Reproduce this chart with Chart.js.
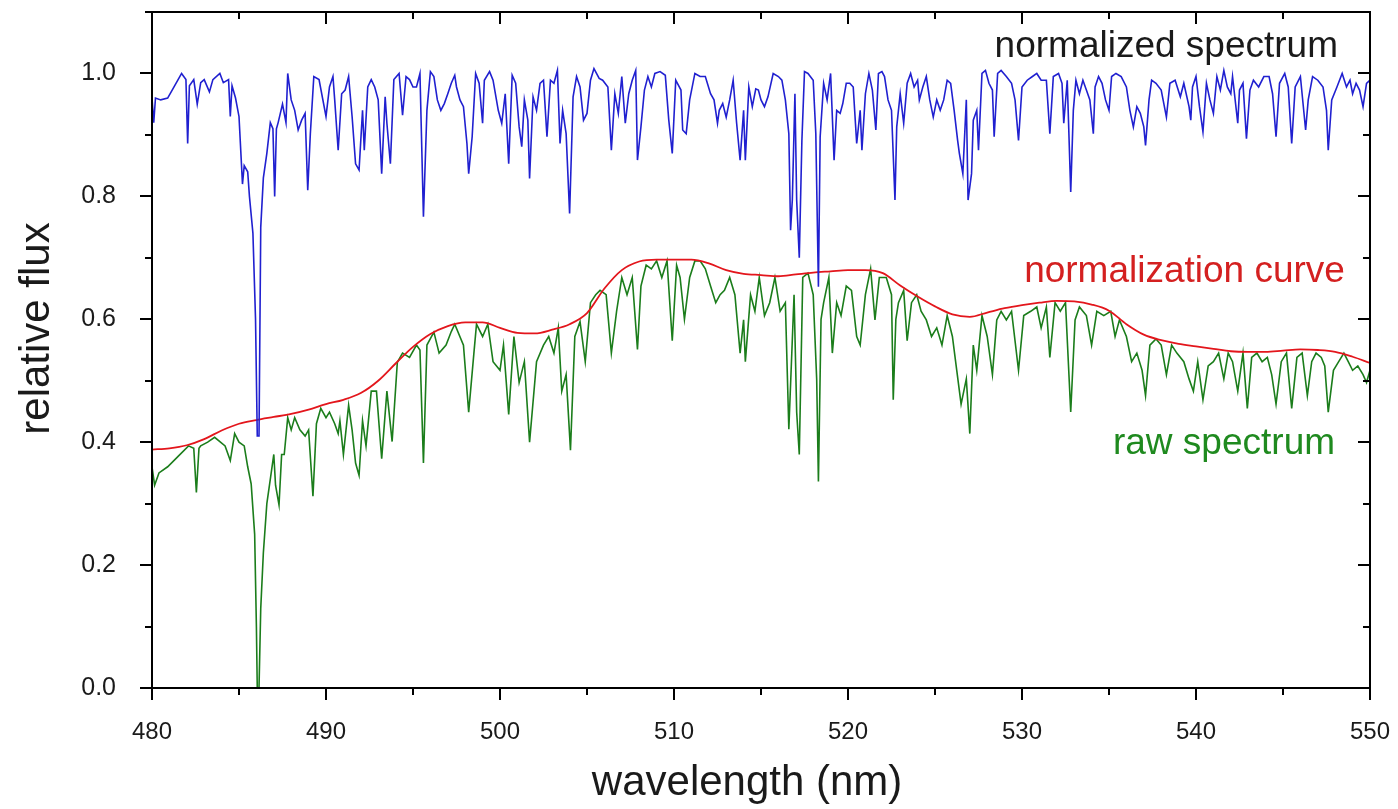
<!DOCTYPE html>
<html>
<head>
<meta charset="utf-8">
<script src="https://cdn.jsdelivr.net/npm/chart.js@4.4.1/dist/chart.umd.min.js"></script>
<style>
  html, body { margin: 0; padding: 0; background: #ffffff; }
  #wrap { width: 1398px; height: 809px; }
</style>
</head>
<body>
<div id="wrap"><canvas id="c" width="1398" height="809"></canvas></div>
<script>
// ---------- data (wavelength nm, relative flux) ----------
const normalizedSpectrum = [
[480.0,0.96],[480.1,0.92],[480.2,0.96],[480.5,0.957],[480.9,0.96],[481.2,0.975],[481.5,0.99],[481.7,1.0],[481.95,0.99],[482.05,0.886],
[482.15,0.98],[482.4,0.99],[482.6,0.95],[482.8,0.985],[483.0,0.99],[483.3,0.97],[483.5,0.99],[483.9,1.0],[484.1,0.985],[484.4,0.99],
[484.5,0.93],[484.6,0.98],[484.8,0.96],[485.0,0.93],[485.2,0.82],[485.3,0.85],[485.5,0.84],[485.6,0.80],[485.8,0.74],[485.95,0.60],
[486.05,0.41],[486.15,0.41],[486.25,0.75],[486.4,0.83],[486.6,0.87],[486.8,0.92],[486.95,0.91],[487.05,0.80],[487.15,0.91],[487.25,0.92],
[487.5,0.95],[487.7,0.92],[487.8,1.0],[488.0,0.957],[488.2,0.94],[488.4,0.908],[488.6,0.924],[488.8,0.935],[488.95,0.81],[489.1,0.902],
[489.3,0.995],[489.6,0.99],[490.0,0.93],[490.2,0.978],[490.4,0.995],[490.5,0.957],[490.7,0.875],[490.9,0.967],[491.1,0.973],[491.3,0.995],
[491.5,0.93],[491.7,0.853],[491.9,0.843],[492.1,0.94],[492.2,0.875],[492.4,0.978],[492.6,0.99],[492.8,0.978],[493.0,0.957],[493.2,0.837],
[493.4,0.962],[493.5,0.919],[493.7,0.853],[493.9,0.99],[494.2,1.0],[494.4,0.932],[494.6,0.995],[494.8,0.99],[495.0,0.978],[495.2,0.978],
[495.4,1.0],[495.6,0.767],[495.8,0.94],[496.0,1.003],[496.2,0.995],[496.4,0.957],[496.6,0.94],[496.8,0.951],[497.0,0.967],[497.2,0.984],
[497.4,0.997],[497.5,0.978],[497.7,0.957],[497.9,0.946],[498.1,0.886],[498.2,0.837],[498.4,0.897],[498.6,1.0],[498.8,0.984],[499.0,0.919],
[499.1,0.989],[499.4,1.003],[499.6,0.989],[499.9,0.94],[500.1,0.919],[500.3,0.967],[500.5,0.853],[500.7,0.997],[500.9,0.984],[501.1,0.913],
[501.25,0.881],[501.4,0.957],[501.6,0.924],[501.7,0.829],[501.9,0.962],[502.1,0.94],[502.3,0.984],[502.5,0.989],[502.7,0.897],[502.9,0.989],
[503.1,0.984],[503.3,1.005],[503.45,0.886],[503.6,0.94],[503.8,0.902],[504.0,0.772],[504.2,0.962],[504.4,0.995],[504.6,0.978],[504.8,0.924],
[505.0,0.935],[505.2,0.989],[505.4,1.008],[505.7,0.992],[505.9,0.989],[506.2,0.978],[506.4,0.875],[506.6,0.967],[506.8,0.935],[507.0,0.995],
[507.2,0.919],[507.4,0.967],[507.6,0.989],[507.8,1.005],[507.9,0.859],[508.1,0.913],[508.3,0.973],[508.5,0.995],[508.7,0.978],[508.9,1.0],
[509.2,1.003],[509.5,0.997],[509.7,0.924],[509.9,0.870],[510.1,0.989],[510.4,0.973],[510.5,0.908],[510.7,0.902],[510.9,0.957],[511.2,1.0],
[511.5,0.995],[511.8,0.995],[512.1,0.967],[512.3,0.957],[512.5,0.919],[512.6,0.94],[512.8,0.951],[513.0,0.929],[513.2,0.957],[513.4,0.989],
[513.6,0.919],[513.8,0.859],[514.0,0.94],[514.1,0.859],[514.3,0.978],[514.5,0.946],[514.7,0.975],[514.85,0.973],[515.0,0.957],[515.2,0.946],
[515.4,0.962],[515.7,1.0],[516.0,0.995],[516.2,0.989],[516.4,0.957],[516.6,0.902],[516.7,0.745],[516.8,0.794],[516.95,0.967],[517.05,0.794],
[517.2,0.70],[517.35,0.891],[517.5,1.003],[517.7,1.0],[518.0,0.989],[518.15,0.902],[518.3,0.653],[518.4,0.897],[518.6,0.984],[518.8,0.957],
[519.0,1.0],[519.2,0.859],[519.35,0.94],[519.55,0.935],[519.7,0.951],[519.9,0.984],[520.1,0.984],[520.3,0.978],[520.5,0.886],[520.7,0.94],
[520.8,0.875],[521.0,0.967],[521.2,1.0],[521.4,0.973],[521.6,0.908],[521.75,1.0],[521.95,1.003],[522.1,0.995],[522.3,0.957],[522.5,0.94],
[522.7,0.794],[522.8,0.913],[523.0,0.967],[523.2,0.919],[523.4,0.984],[523.6,1.0],[523.8,0.978],[524.0,0.989],[524.1,0.957],[524.3,0.978],
[524.5,0.995],[524.7,0.957],[524.9,0.929],[525.1,0.957],[525.3,0.94],[525.5,0.957],[525.7,0.989],[525.9,0.984],[526.1,0.94],[526.3,0.891],
[526.4,0.87],[526.6,0.837],[526.8,0.957],[526.9,0.794],[527.1,0.837],[527.2,0.924],[527.4,0.94],[527.5,0.875],[527.7,1.0],[527.9,1.005],
[528.1,0.984],[528.3,0.973],[528.4,0.897],[528.6,1.0],[528.8,1.005],[529.1,0.995],[529.4,0.984],[529.6,0.957],[529.8,0.891],[530.0,0.978],
[530.3,0.989],[530.6,0.995],[530.85,1.0],[531.1,0.989],[531.4,0.989],[531.6,0.902],[531.8,0.995],[532.1,1.0],[532.3,0.984],[532.4,0.919],
[532.6,0.989],[532.8,0.807],[532.95,0.94],[533.1,0.989],[533.3,0.967],[533.5,0.989],[533.7,0.973],[533.9,0.957],[534.1,0.902],[534.2,0.978],
[534.4,0.995],[534.6,0.984],[534.8,0.957],[535.0,0.94],[535.15,0.995],[535.4,1.0],[535.7,0.995],[536.0,0.978],[536.2,0.94],[536.4,0.913],
[536.6,0.946],[536.8,0.935],[537.0,0.913],[537.1,0.883],[537.3,0.957],[537.45,0.989],[537.7,0.984],[538.0,0.973],[538.3,0.929],[538.5,0.984],
[538.8,0.989],[539.1,0.962],[539.3,0.984],[539.6,0.946],[539.7,0.924],[539.8,0.978],[540.0,0.995],[540.2,0.946],[540.4,0.905],[540.6,0.984],
[540.8,0.957],[541.0,0.935],[541.2,0.995],[541.4,0.973],[541.6,1.005],[541.8,0.978],[542.0,0.967],[542.1,0.995],[542.4,0.919],[542.5,0.973],
[542.7,0.984],[542.9,0.894],[543.1,0.973],[543.3,0.989],[543.6,0.978],[543.9,0.995],[544.2,0.995],[544.4,0.967],[544.6,0.897],[544.8,0.984],
[545.1,1.0],[545.3,0.978],[545.5,0.886],[545.7,0.978],[546.0,0.995],[546.3,0.908],[546.45,0.957],[546.7,0.995],[547.0,0.989],[547.3,0.978],
[547.5,0.94],[547.6,0.875],[547.8,0.957],[548.1,0.978],[548.4,1.0],[548.65,0.978],[548.85,0.989],[549.0,0.967],[549.2,0.984],[549.4,0.973],
[549.6,0.946],[549.8,0.984],[550.0,0.989]
];

const normalizationCurve = [
[480,0.388],[481,0.390],[482,0.395],[483,0.405],[484,0.419],[485,0.430],[486,0.436],[487,0.441],[488,0.446],[489,0.453],
[490,0.462],[491,0.469],[492,0.480],[493,0.500],[494,0.528],[495,0.555],[496,0.576],[497,0.589],[498,0.595],[499,0.595],
[500,0.586],[501,0.578],[502,0.577],[503,0.583],[504,0.592],[505,0.610],[506,0.650],[507,0.680],[508,0.694],[509,0.697],
[510,0.697],[511,0.697],[512,0.691],[513,0.680],[514,0.674],[515,0.672],[516,0.670],[517,0.673],[518,0.676],[519,0.678],
[520,0.680],[521,0.680],[522,0.675],[523,0.655],[524,0.637],[525,0.621],[526,0.608],[527,0.604],[528,0.611],[529,0.618],
[530,0.623],[531,0.627],[532,0.630],[533,0.629],[534,0.624],[535,0.614],[536,0.592],[537,0.575],[538,0.566],[539,0.560],
[540,0.556],[541,0.552],[542,0.548],[543,0.547],[544,0.547],[545,0.549],[546,0.551],[547,0.550],[548,0.547],[549,0.539],
[550,0.529]
];

const rawSpectrum = [
[480.0,0.36],[480.15,0.33],[480.4,0.35],[480.9,0.36],[481.5,0.377],[482.1,0.394],[482.4,0.39],[482.55,0.318],[482.7,0.39],[482.8,0.394],
[483.2,0.40],[483.6,0.408],[484.2,0.394],[484.5,0.37],[484.75,0.414],[485.0,0.40],[485.3,0.394],[485.5,0.36],[485.7,0.332],[485.9,0.25],
[486.0,0.10],[486.05,0.0],[486.15,0.0],[486.25,0.13],[486.4,0.22],[486.6,0.30],[486.8,0.34],[487.0,0.38],[487.1,0.33],[487.3,0.298],
[487.45,0.38],[487.6,0.38],[487.8,0.44],[488.0,0.42],[488.2,0.44],[488.5,0.42],[488.8,0.41],[489.0,0.42],[489.25,0.312],[489.45,0.43],
[489.7,0.455],[490.0,0.44],[490.2,0.449],[490.5,0.43],[490.7,0.414],[490.8,0.435],[491.0,0.38],[491.3,0.46],[491.5,0.42],[491.7,0.366],
[491.9,0.346],[492.1,0.435],[492.3,0.394],[492.6,0.483],[492.9,0.483],[493.2,0.373],[493.5,0.483],[493.8,0.401],[494.1,0.53],[494.4,0.545],
[494.8,0.538],[495.2,0.558],[495.4,0.55],[495.6,0.366],[495.8,0.558],[496.2,0.579],[496.5,0.545],[496.9,0.558],[497.2,0.58],[497.4,0.592],
[497.9,0.558],[498.2,0.449],[498.5,0.545],[498.65,0.592],[499.0,0.572],[499.3,0.592],[499.6,0.531],[500.0,0.517],[500.2,0.558],[500.5,0.445],
[500.8,0.572],[501.1,0.497],[501.4,0.531],[501.7,0.40],[502.1,0.531],[502.5,0.558],[502.8,0.572],[503.1,0.545],[503.35,0.586],[503.55,0.483],
[503.8,0.51],[504.05,0.387],[504.3,0.572],[504.6,0.596],[504.9,0.531],[505.2,0.627],[505.5,0.640],[505.75,0.647],[506.1,0.640],[506.4,0.545],
[506.7,0.613],[507.0,0.668],[507.3,0.640],[507.6,0.668],[507.9,0.551],[508.1,0.654],[508.4,0.688],[508.7,0.682],[509.0,0.695],[509.3,0.668],
[509.6,0.695],[509.9,0.565],[510.15,0.688],[510.35,0.668],[510.6,0.60],[510.9,0.668],[511.2,0.695],[511.5,0.695],[511.8,0.682],[512.1,0.654],
[512.4,0.627],[512.65,0.64],[512.9,0.647],[513.2,0.668],[513.5,0.64],[513.8,0.545],[514.0,0.599],[514.1,0.531],[514.4,0.64],[514.65,0.613],
[514.9,0.668],[515.2,0.606],[515.5,0.627],[515.8,0.668],[516.1,0.613],[516.4,0.627],[516.6,0.421],[516.9,0.64],[517.05,0.449],[517.2,0.38],
[517.4,0.668],[517.7,0.675],[518.0,0.64],[518.2,0.503],[518.3,0.336],[518.45,0.60],[518.6,0.627],[518.9,0.668],[519.1,0.545],[519.35,0.627],
[519.6,0.606],[519.9,0.654],[520.2,0.647],[520.5,0.572],[520.7,0.558],[521.0,0.64],[521.3,0.682],[521.55,0.599],[521.8,0.668],[522.2,0.668],
[522.5,0.64],[522.6,0.469],[522.75,0.60],[522.9,0.627],[523.2,0.647],[523.4,0.565],[523.65,0.627],[523.95,0.64],[524.2,0.613],[524.5,0.599],
[524.8,0.572],[525.1,0.586],[525.4,0.558],[525.7,0.606],[526.0,0.572],[526.25,0.517],[526.5,0.462],[526.8,0.503],[527.0,0.414],[527.2,0.558],
[527.4,0.517],[527.7,0.606],[528.0,0.572],[528.3,0.51],[528.55,0.599],[528.8,0.613],[529.1,0.599],[529.4,0.613],[529.8,0.517],[530.1,0.606],
[530.5,0.613],[530.85,0.62],[531.1,0.586],[531.4,0.62],[531.6,0.538],[531.9,0.627],[532.2,0.613],[532.5,0.627],[532.8,0.449],[533.05,0.599],
[533.3,0.62],[533.7,0.606],[534.0,0.558],[534.3,0.613],[534.7,0.606],[535.1,0.613],[535.35,0.572],[535.6,0.599],[536.0,0.572],[536.3,0.531],
[536.6,0.545],[536.9,0.517],[537.1,0.476],[537.35,0.558],[537.7,0.568],[538.0,0.558],[538.3,0.51],[538.6,0.558],[538.9,0.545],[539.3,0.531],
[539.6,0.503],[539.85,0.483],[540.1,0.531],[540.4,0.469],[540.7,0.524],[541.0,0.531],[541.3,0.545],[541.6,0.503],[541.85,0.545],[542.1,0.531],
[542.4,0.483],[542.7,0.545],[542.95,0.455],[543.2,0.538],[543.5,0.545],[543.8,0.531],[544.1,0.538],[544.35,0.51],[544.6,0.462],[544.9,0.531],
[545.2,0.545],[545.5,0.455],[545.8,0.538],[546.1,0.545],[546.4,0.476],[546.65,0.531],[546.9,0.545],[547.2,0.538],[547.4,0.524],[547.6,0.449],
[547.9,0.517],[548.2,0.531],[548.5,0.545],[548.75,0.531],[549.0,0.517],[549.3,0.524],[549.6,0.51],[549.8,0.497],[550.0,0.517]
];

// ---------- axis ticks ----------
const xMajorTicks = [480, 490, 500, 510, 520, 530, 540, 550];
const xMinorTicks = [485, 495, 505, 515, 525, 535, 545];
const yMajorTicks = [0.0, 0.2, 0.4, 0.6, 0.8, 1.0];
const yMinorTicks = [0.1, 0.3, 0.5, 0.7, 0.9, 1.1];

// ---------- labels ----------
const seriesLabels = ['normalized spectrum', 'normalization curve', 'raw spectrum'];
const xTitle = 'wavelength (nm)';
const yTitle = 'relative flux';

const toXY = arr => arr.map(p => ({ x: p[0], y: p[1] }));

const FONT = "'Liberation Sans', Arial, Helvetica, sans-serif";

const frameTicks = {
  id: 'frameTicks',
  afterDraw(chart) {
    const { ctx, chartArea: a, scales: { x, y } } = chart;
    ctx.save();
    ctx.strokeStyle = '#000';
    ctx.lineWidth = 2;
    ctx.strokeRect(a.left, a.top, a.right - a.left, a.bottom - a.top);
    ctx.beginPath();
    const major = 12, minor = 7;
    xMajorTicks.forEach(v => { const p = Math.round(x.getPixelForValue(v));
      ctx.moveTo(p, a.bottom); ctx.lineTo(p, a.bottom + major);
      ctx.moveTo(p, a.top); ctx.lineTo(p, a.top + major); });
    xMinorTicks.forEach(v => { const p = Math.round(x.getPixelForValue(v));
      ctx.moveTo(p, a.bottom); ctx.lineTo(p, a.bottom + minor);
      ctx.moveTo(p, a.top); ctx.lineTo(p, a.top + minor); });
    yMajorTicks.forEach(v => { const p = Math.round(y.getPixelForValue(v));
      ctx.moveTo(a.left - major, p); ctx.lineTo(a.left, p);
      ctx.moveTo(a.right, p); ctx.lineTo(a.right - major, p); });
    yMinorTicks.forEach(v => { const p = Math.round(y.getPixelForValue(v));
      ctx.moveTo(a.left - minor, p); ctx.lineTo(a.left, p);
      ctx.moveTo(a.right, p); ctx.lineTo(a.right - minor, p); });
    ctx.stroke();

    // axis titles
    ctx.fillStyle = '#1a1a1a';
    ctx.font = '42px ' + FONT;
    ctx.textAlign = 'center';
    ctx.textBaseline = 'middle';
    ctx.fillText(xTitle, x.getPixelForValue(514.2), 783);
    ctx.translate(37, y.getPixelForValue(0.585));
    ctx.rotate(-Math.PI / 2);
    ctx.fillText(yTitle, 0, 0);
    ctx.restore();
  }
};

const seriesText = {
  id: 'seriesText',
  afterDatasetsDraw(chart, args, opts) {
    const { ctx, scales: { x, y } } = chart;
    ctx.save();
    ctx.font = opts.font;
    ctx.textAlign = 'right';
    ctx.textBaseline = 'alphabetic';
    opts.items.forEach(it => {
      ctx.fillStyle = it.color;
      ctx.fillText(it.text, x.getPixelForValue(it.x), y.getPixelForValue(it.y));
    });
    ctx.restore();
  }
};

const fixBox = (w, h) => s => {
  if (w !== null) s.width = w;
  if (h !== null) s.height = h;
  s.paddingTop = 0; s.paddingBottom = 0; s.paddingLeft = 0; s.paddingRight = 0;
};

new Chart(document.getElementById('c'), {
  type: 'line',
  data: {
    datasets: [
      { label: seriesLabels[0], data: toXY(normalizedSpectrum), borderColor: '#2020d0', borderWidth: 1.6, pointRadius: 0, tension: 0, order: 0 },
      { label: seriesLabels[1], data: toXY(normalizationCurve), borderColor: '#e3161c', borderWidth: 1.8, pointRadius: 0, tension: 0.4, cubicInterpolationMode: 'monotone', order: 1 },
      { label: seriesLabels[2], data: toXY(rawSpectrum), borderColor: '#1b7d1b', borderWidth: 1.6, pointRadius: 0, tension: 0, order: 2 }
    ]
  },
  options: {
    responsive: false,
    animation: false,
    devicePixelRatio: 1,
    layout: { padding: { top: 12, right: 28, left: 0, bottom: 0 } },
    plugins: {
      legend: { display: false },
      tooltip: { enabled: false },
      seriesText: {
        font: "37px " + FONT,
        items: [
          { text: seriesLabels[0], x: 548.16, y: 1.026, color: '#1a1a1a' },
          { text: seriesLabels[1], x: 548.56, y: 0.66, color: '#d42020' },
          { text: seriesLabels[2], x: 547.99, y: 0.38, color: '#1f8a1f' }
        ]
      }
    },
    scales: {
      x: {
        type: 'linear', min: 480, max: 550,
        grid: { display: false }, border: { display: false },
        afterBuildTicks: s => { s.ticks = xMajorTicks.map(v => ({ value: v })); },
        afterFit: fixBox(null, 121),
        ticks: { color: '#1a1a1a', font: { family: FONT, size: 24 }, padding: 22, maxRotation: 0, autoSkip: false },
        title: { display: false }
      },
      y: {
        type: 'linear', min: 0, max: 1.1,
        grid: { display: false }, border: { display: false },
        afterBuildTicks: s => { s.ticks = yMajorTicks.map(v => ({ value: v })); },
        afterFit: fixBox(152, null),
        ticks: { color: '#1a1a1a', font: { family: FONT, size: 25 }, padding: 28, autoSkip: false, callback: v => Number(v).toFixed(1) },
        title: { display: false }
      }
    }
  },
  plugins: [frameTicks, seriesText]
});
</script>
</body>
</html>
